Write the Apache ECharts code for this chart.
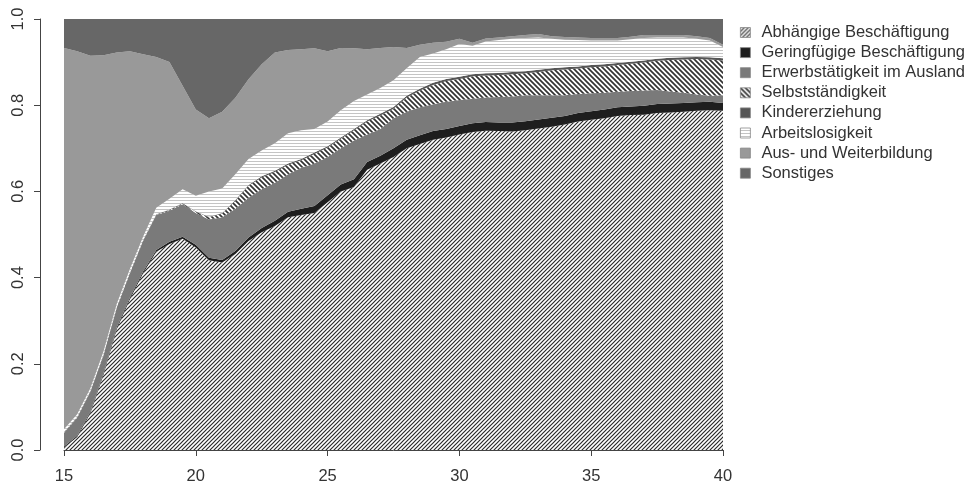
<!DOCTYPE html>
<html>
<head>
<meta charset="utf-8">
<script src="https://cdn.jsdelivr.net/npm/echarts@6/dist/echarts.min.js"></script>
<style>
  html, body { margin: 0; padding: 0; background: #fff; }
  #chart { width: 971px; height: 486px; }
</style>
</head>
<body>
<div id="chart"></div>
<script>
// Alter (Halbjahresschritte)
const ages = [15, 15.5, 16, 16.5, 17, 17.5, 18, 18.5, 19, 19.5, 20, 20.5, 21, 21.5, 22, 22.5, 23, 23.5, 24, 24.5,
  25, 25.5, 26, 26.5, 27, 27.5, 28, 28.5, 29, 29.5, 30, 30.5, 31, 31.5, 32, 32.5, 33, 33.5, 34, 34.5,
  35, 35.5, 36, 36.5, 37, 37.5, 38, 38.5, 39, 39.5, 40]

const stateNames = ['Abhängige Beschäftigung', 'Geringfügige Beschäftigung', 'Erwerbstätigkeit im Ausland',
  'Selbstständigkeit', 'Kindererziehung', 'Arbeitslosigkeit', 'Aus- und Weiterbildung', 'Sonstiges']

const abhaengig = [.005, .03, .085, .175, .28, .35, .41, .46, .478, .49, .47, .44, .435, .455, .485, .505, .52, .54, .545, .55,
  .575, .60, .61, .65, .665, .68, .70, .71, .72, .725, .732, .738, .741, .74, .739, .742, .746, .75, .755, .762,
  .766, .77, .775, .777, .778, .782, .783, .785, .787, .788, .787]
const geringfuegig = [.003, .003, .004, .004, .004, .004, .004, .004, .005, .005, .006, .006, .006, .007, .008, .01, .012, .013, .015, .016,
  .016, .016, .018, .018, .018, .02, .02, .02, .02, .02, .02, .02, .02, .02, .021, .021, .021, .021, .02, .02,
  .02, .02, .02, .02, .021, .021, .021, .02, .02, .02, .018]
const ausland = [.032, .042, .046, .041, .046, .056, .071, .081, .072, .075, .074, .089, .099, .098, .092, .09, .088, .087, .095, .099,
  .089, .084, .09, .064, .062, .07, .065, .065, .062, .063, .06, .057, .057, .059, .06, .06, .056, .052, .048, .044,
  .042, .039, .036, .036, .035, .032, .028, .024, .018, .014, .018]
const selbst = [.001, .001, .001, .001, .001, .001, .001, .001, .002, .002, .003, .005, .009, .018, .028, .027, .025, .022, .017, .022,
  .022, .022, .024, .03, .031, .022, .033, .039, .045, .048, .049, .052, .051, .051, .052, .051, .054, .058, .06, .059,
  .06, .061, .062, .063, .065, .068, .073, .077, .082, .084, .081]
const kinder = [.001, .001, .001, .001, .001, .001, .001, .001, .001, .001, .001, .001, .001, .002, .002, .003, .003, .003, .003, .003,
  .003, .003, .003, .003, .004, .004, .004, .004, .005, .005, .005, .005, .005, .005, .005, .005, .005, .005, .005, .005,
  .005, .005, .005, .005, .005, .005, .005, .005, .005, .005, .005]
const arbeitslos = [.006, .006, .006, .007, .007, .008, .008, .015, .025, .032, .036, .059, .057, .06, .06, .06, .064, .07, .067, .055,
  .057, .063, .065, .06, .06, .062, .064, .074, .068, .069, .076, .066, .074, .076, .077, .077, .075, .068, .064, .061,
  .057, .055, .052, .052, .052, .049, .047, .046, .042, .039, .026]
const bildung = [.885, .842, .772, .687, .583, .505, .423, .35, .317, .24, .20, .17, .178, .177, .185, .20, .21, .193, .188, .187,
  .163, .145, .122, .105, .093, .077, .047, .028, .025, .017, .012, .007, .007, .006, .006, .007, .008, .006, .006, .006,
  .006, .006, .006, .006, .007, .006, .006, .006, .006, .006, .005]
const sonstiges = [.067, .075, .085, .084, .078, .075, .082, .088, .10, .155, .21, .23, .215, .183, .14, .105, .078, .072, .07, .068,
  .075, .067, .068, .07, .067, .065, .067, .06, .055, .053, .046, .055, .045, .043, .04, .037, .035, .04, .042, .043,
  .044, .044, .044, .041, .037, .037, .037, .037, .04, .044, .06]

const xTicks = [15, 20, 25, 30, 35, 40]
const yTicks = [0, 0.2, 0.4, 0.6, 0.8, 1.0]

// Schraffur-Muster
const makePattern = (size, draw) => {
  const c = document.createElement('canvas')
  c.width = size
  c.height = size
  const ctx = c.getContext('2d')
  ctx.fillStyle = '#ffffff'
  ctx.fillRect(0, 0, size, size)
  draw(ctx, size)
  return { image: c, repeat: 'repeat' }
}

const hatchUp = makePattern(4, (ctx, s) => {
  ctx.strokeStyle = '#2a2a2a'
  ctx.lineWidth = 1.2
  ctx.beginPath()
  ctx.moveTo(-1, s + 1); ctx.lineTo(s + 1, -1)
  ctx.moveTo(-1, 1); ctx.lineTo(1, -1)
  ctx.moveTo(s - 1, s + 1); ctx.lineTo(s + 1, s - 1)
  ctx.stroke()
})
const hatchDown = makePattern(5, (ctx, s) => {
  ctx.strokeStyle = '#333333'
  ctx.lineWidth = 1.7
  ctx.beginPath()
  ctx.moveTo(-1, -1); ctx.lineTo(s + 1, s + 1)
  ctx.moveTo(-1, s - 1); ctx.lineTo(1, s + 1)
  ctx.moveTo(s - 1, -1); ctx.lineTo(s + 1, 1)
  ctx.stroke()
})
const hStripes = makePattern(3, (ctx, s) => {
  ctx.fillStyle = '#c4c4c4'
  ctx.fillRect(0, 2, s, 1)
})

const fills = [hatchUp, '#1e1e1e', '#7a7a7a', hatchDown, '#555555', hStripes, '#999999', '#676767']
const values = [abhaengig, geringfuegig, ausland, selbst, kinder, arbeitslos, bildung, sonstiges]

const chartInstance = echarts.init(document.getElementById('chart'))

const series = stateNames.map((name, i) => ({
  name: name,
  type: 'line',
  stack: 'zustand',
  symbol: 'none',
  silent: true,
  data: values[i],
  lineStyle: { width: 0 },
  itemStyle: { color: fills[i] },
  areaStyle: { color: fills[i], opacity: 1 }
}))

const isTick = (idx, val) => xTicks.includes(Number(val))

const option = {
  animation: false,
  backgroundColor: '#ffffff',
  textStyle: { fontFamily: 'Liberation Sans, Arial, sans-serif' },
  grid: { left: 64, right: 248, top: 19, bottom: 36 },
  legend: {
    orient: 'vertical',
    left: 735,
    top: 19,
    icon: 'rect',
    itemWidth: 10,
    itemHeight: 10,
    itemGap: 3.1,
    selectedMode: false,
    textStyle: { fontSize: 16.5, color: '#333', lineHeight: 17, padding: [0, 0, 0, 6] },
    data: stateNames.map((name, i) => ({
      name: name,
      itemStyle: { color: fills[i], borderColor: '#888', borderWidth: 0.8 }
    }))
  },
  xAxis: {
    type: 'category',
    data: ages.map(String),
    boundaryGap: false,
    offset: 13,
    axisLine: { show: true, lineStyle: { color: '#444', width: 1 } },
    axisTick: { show: true, length: 6, interval: isTick, lineStyle: { color: '#444' } },
    axisLabel: { fontSize: 16.5, color: '#333', margin: 5, interval: isTick },
    splitLine: { show: false }
  },
  yAxis: {
    type: 'value',
    min: 0,
    max: 1,
    interval: 0.2,
    offset: 24,
    axisLine: { show: true, lineStyle: { color: '#444', width: 1 } },
    axisTick: { show: true, length: 6, lineStyle: { color: '#444' } },
    axisLabel: {
      fontSize: 16.5, color: '#333', rotate: 90, margin: 13,
      formatter: (v) => yTicks.some(t => Math.abs(t - v) < 1e-6) ? v.toFixed(1) : ''
    },
    splitLine: { show: false }
  },
  series: series
}

chartInstance.setOption(option)
</script>
</body>
</html>
